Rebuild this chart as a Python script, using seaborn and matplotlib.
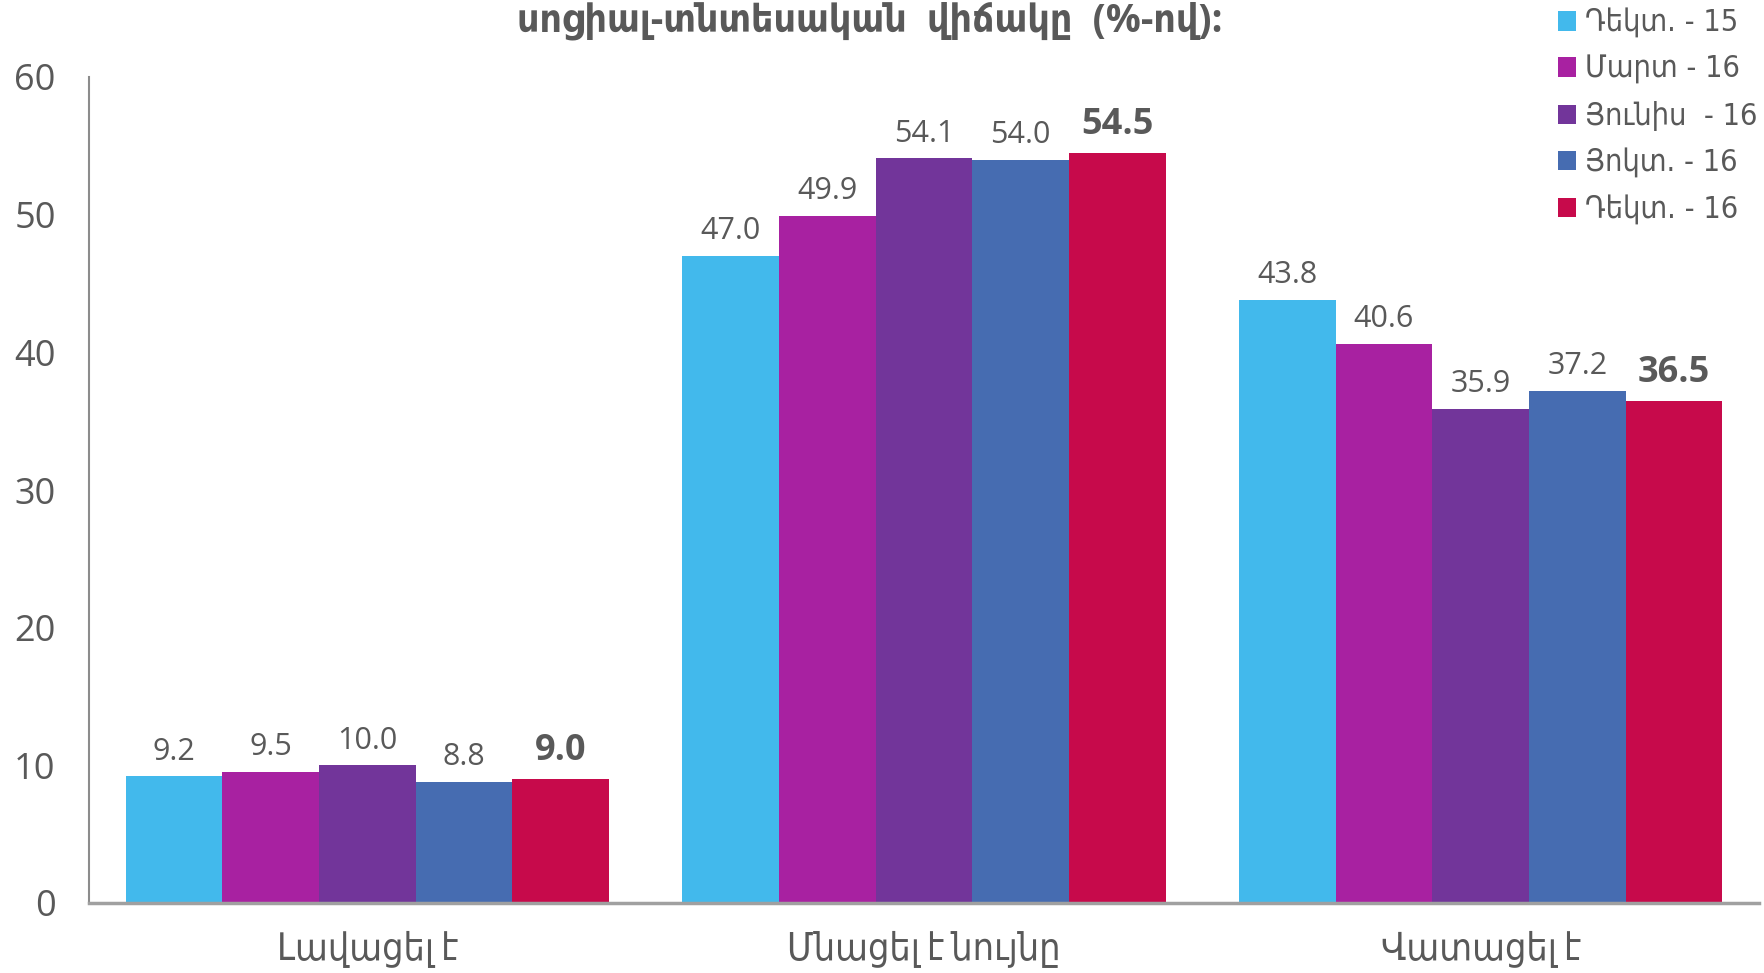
import matplotlib
matplotlib.use("Agg")
import matplotlib.pyplot as plt
from matplotlib.patches import Patch
import seaborn as sns
import pandas as pd

categories = ["Լավացել է", "Մնացել է նույնը", "Վատացել է"]
periods = ["Դեկտ. - 15", "Մարտ - 16", "Յունիս  - 16", "Յոկտ. - 16", "Դեկտ. - 16"]
values = {
    "Դեկտ. - 15": [9.2, 47.0, 43.8],
    "Մարտ - 16": [9.5, 49.9, 40.6],
    "Յունիս  - 16": [10.0, 54.1, 35.9],
    "Յոկտ. - 16": [8.8, 54.0, 37.2],
    "Դեկտ. - 16": [9.0, 54.5, 36.5],
}
colors = ["#42B9EC", "#A821A1", "#72359A", "#466CB1", "#C70A4B"]
title = "սոցիալ-տնտեսական  վիճակը  (%-ով):"
yticks = [0, 10, 20, 30, 40, 50, 60]

rows = []
for p in periods:
    for c, v in zip(categories, values[p]):
        rows.append({"cat": c, "period": p, "val": v})
df = pd.DataFrame(rows)

sns.set_style("white")
plt.rcParams["font.family"] = ["Open Sans", "DejaVu Sans"]
GRAY = "#595959"

fig = plt.figure(figsize=(17.65, 9.73), dpi=100)
ax = fig.add_axes([89 / 1765, 1 - 903 / 973, (1759 - 89) / 1765, (903 - 77) / 973])

sns.barplot(data=df, x="cat", y="val", hue="period", hue_order=periods,
            order=categories, palette=colors, width=0.868, saturation=1,
            gap=0, legend=False, ax=ax, errorbar=None, linewidth=0,
            edgecolor="none")

for i, cont in enumerate(ax.containers):
    if i == len(ax.containers) - 1:
        ax.bar_label(cont, fmt="%.1f", padding=7, fontsize=26,
                     fontweight="bold", color=GRAY)
    else:
        ax.bar_label(cont, fmt="%.1f", padding=7, fontsize=22, color=GRAY)

ax.set_xlim(-0.5, 2.5)
ax.set_ylim(0, 60)
ax.set_yticks(yticks)
ax.set_yticklabels([str(t) for t in yticks], fontsize=26, color=GRAY)
ax.set_xlabel("")
ax.set_ylabel("")
ax.tick_params(axis="y", length=0, pad=24)
ax.tick_params(axis="x", length=0, pad=20)
for lbl in ax.get_xticklabels():
    lbl.set_fontsize(27)
    lbl.set_color(GRAY)
    lbl.set_fontstretch("condensed")

for s in ["top", "right"]:
    ax.spines[s].set_visible(False)
ax.spines["left"].set_color("#8C8C8C")
ax.spines["left"].set_linewidth(1.5)
ax.spines["bottom"].set_color("#A0A0A0")
ax.spines["bottom"].set_linewidth(2.5)

handles = [Patch(facecolor=c, edgecolor="none") for c in colors]
leg = fig.legend(handles, periods, loc="upper left",
                 bbox_to_anchor=(1558 / 1765, 1 - 8 / 973),
                 frameon=False, prop={"family": "DejaVu Sans",
                                      "stretch": "condensed", "size": 22},
                 handlelength=0.6, handleheight=0.6, handletextpad=0.3,
                 labelspacing=0.55, borderpad=0, borderaxespad=0)
for t in leg.get_texts():
    t.set_color(GRAY)

fig.text(870 / 1765, 1 - 31 / 973, title, ha="center", va="baseline",
         fontsize=28, fontweight="bold", color=GRAY, fontstretch="condensed")

fig.savefig("out.png", dpi=100)
